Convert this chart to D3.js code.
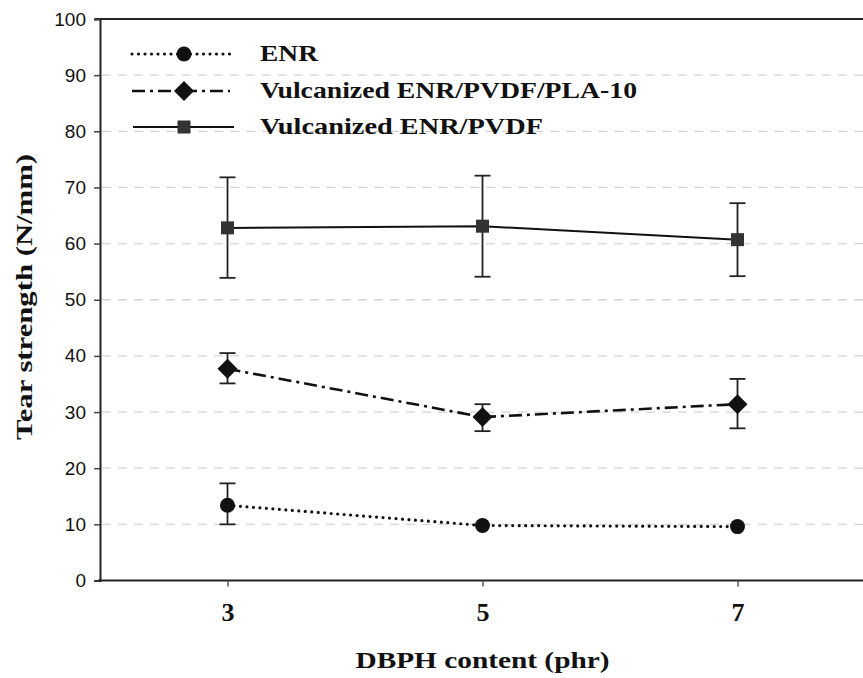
<!DOCTYPE html>
<html><head><meta charset="utf-8">
<script src="https://cdn.jsdelivr.net/npm/d3@7"></script>
<style>body{margin:0;background:#fff}svg{display:block}</style>
</head><body>
<script>
const dbph = [3, 5, 7];
const seriesNames = ["ENR", "Vulcanized ENR/PVDF/PLA-10", "Vulcanized ENR/PVDF"];
const enrMean = [13.4, 9.8, 9.6];
const enrLow = [10.0, null, null];
const enrHigh = [17.3, null, null];
const plaMean = [37.7, 29.1, 31.4];
const plaLow = [35.1, 26.6, 27.1];
const plaHigh = [40.5, 31.4, 35.9];
const pvdfMean = [62.8, 63.1, 60.7];
const pvdfLow = [53.9, 54.1, 54.2];
const pvdfHigh = [71.8, 72.1, 67.2];
const yTicks = [0, 10, 20, 30, 40, 50, 60, 70, 80, 90, 100];
const xTicks = [3, 5, 7];

const W = 863, H = 678;
const serif = "Liberation Serif, Times New Roman, serif";
const svg = d3.select("body").append("svg").attr("width", W).attr("height", H);
const x = d3.scaleLinear().domain([2, 8]).range([100, 865]);
const y = d3.scaleLinear().domain([0, 100]).range([580.5, 19]);

// gridlines
svg.append("g").selectAll("line").data(yTicks.filter(t => t > 0 && t < 100)).join("line")
  .attr("x1", 102).attr("x2", 863).attr("y1", d => y(d)).attr("y2", d => y(d))
  .attr("stroke", "#d4d4d4").attr("stroke-width", 1.3).attr("stroke-dasharray", "9,7");

// top frame
svg.append("line").attr("x1", 95).attr("x2", 863).attr("y1", y(100)).attr("y2", y(100))
  .attr("stroke", "#222").attr("stroke-width", 2);

// y axis
const ya = svg.append("g").attr("transform", "translate(100,0)")
  .call(d3.axisLeft(y).tickValues(yTicks).tickSize(6).tickPadding(8));
ya.select(".domain").attr("stroke", "#222").attr("stroke-width", 2);
ya.selectAll(".tick line").attr("stroke", "#444").attr("stroke-width", 1.5);
ya.selectAll("text").attr("font-family", "Liberation Sans, Arial, sans-serif")
  .attr("font-size", 19).attr("fill", "#111");

// x axis
const xa = svg.append("g").attr("transform", `translate(0,${y(0)})`)
  .call(d3.axisBottom(x).tickValues(xTicks).tickSize(6).tickPadding(16).tickFormat(d3.format("d")));
xa.select(".domain").attr("stroke", "#222").attr("stroke-width", 2).attr("d", "M98,0H863");
xa.selectAll(".tick line").attr("stroke", "#555").attr("stroke-width", 1.5);
xa.selectAll("text").attr("font-family", serif)
  .attr("font-weight", "bold").attr("font-size", 26).attr("fill", "#111");

// axis titles
svg.append("text").attr("x", x(5)).attr("y", 668).attr("text-anchor", "middle")
  .attr("font-family", serif).attr("font-weight", "bold")
  .attr("textLength", 254).attr("lengthAdjust", "spacingAndGlyphs")
  .attr("font-size", 24).attr("fill", "#111").text("DBPH content (phr)");
svg.append("text").attr("transform", `translate(32,297) rotate(-90)`).attr("text-anchor", "middle")
  .attr("font-family", serif).attr("font-weight", "bold")
  .attr("textLength", 286).attr("lengthAdjust", "spacingAndGlyphs")
  .attr("font-size", 24).attr("fill", "#111").text("Tear strength (N/mm)");

const series = [
  {name: seriesNames[0], mean: enrMean, lo: enrLow, hi: enrHigh, dash: "0,6.5", width: 3.2, cap: "round", marker: "circle", len: 58},
  {name: seriesNames[1], mean: plaMean, lo: plaLow, hi: plaHigh, dash: "13,5,3,5", width: 2.6, cap: "butt", marker: "diamond", len: 377},
  {name: seriesNames[2], mean: pvdfMean, lo: pvdfLow, hi: pvdfHigh, dash: null, width: 2, cap: "butt", marker: "square", len: 283}
];

const line = d3.line().x(d => x(d[0])).y(d => y(d[1]));
function marker(g, type, cx, cy) {
  if (type === "circle") g.append("circle").attr("cx", cx).attr("cy", cy).attr("r", 7.5).attr("fill", "#111");
  else if (type === "diamond") g.append("path").attr("d", `M${cx},${cy-10}L${cx+10},${cy}L${cx},${cy+10}L${cx-10},${cy}Z`).attr("fill", "#111");
  else g.append("rect").attr("x", cx-6.5).attr("y", cy-6.5).attr("width", 13).attr("height", 13).attr("fill", "#333");
}

series.forEach(s => {
  const g = svg.append("g");
  const pts = dbph.map((d, i) => [d, s.mean[i]]);
  g.append("path").attr("d", line(pts)).attr("fill", "none").attr("stroke", "#111")
    .attr("stroke-width", s.width).attr("stroke-linecap", s.cap)
    .attr("stroke-dasharray", s.dash);
  dbph.forEach((d, i) => {
    if (s.lo[i] != null) {
      const cx = x(d);
      g.append("line").attr("x1", cx).attr("x2", cx).attr("y1", y(s.lo[i])).attr("y2", y(s.hi[i]))
        .attr("stroke", "#222").attr("stroke-width", 1.8);
      [s.lo[i], s.hi[i]].forEach(v => g.append("line").attr("x1", cx-8).attr("x2", cx+8)
        .attr("y1", y(v)).attr("y2", y(v)).attr("stroke", "#222").attr("stroke-width", 1.8));
    }
    marker(g, s.marker, x(d), y(s.mean[i]));
  });
});

// legend
const legY = [54, 91, 127];
series.forEach((s, i) => {
  const g = svg.append("g");
  g.append("line").attr("x1", s.marker === "square" ? 133 : 132).attr("x2", s.marker === "square" ? 234 : 230)
    .attr("y1", legY[i]).attr("y2", legY[i]).attr("stroke", "#111")
    .attr("stroke-width", s.width).attr("stroke-linecap", s.cap).attr("stroke-dasharray", s.dash);
  marker(g, s.marker, 184, legY[i]);
  g.append("text").attr("x", 260).attr("y", legY[i] + 7)
    .attr("font-family", serif).attr("font-weight", "bold")
    .attr("textLength", s.len).attr("lengthAdjust", "spacingAndGlyphs")
    .attr("font-size", 23).attr("fill", "#111").text(s.name);
});
</script>
</body></html>
